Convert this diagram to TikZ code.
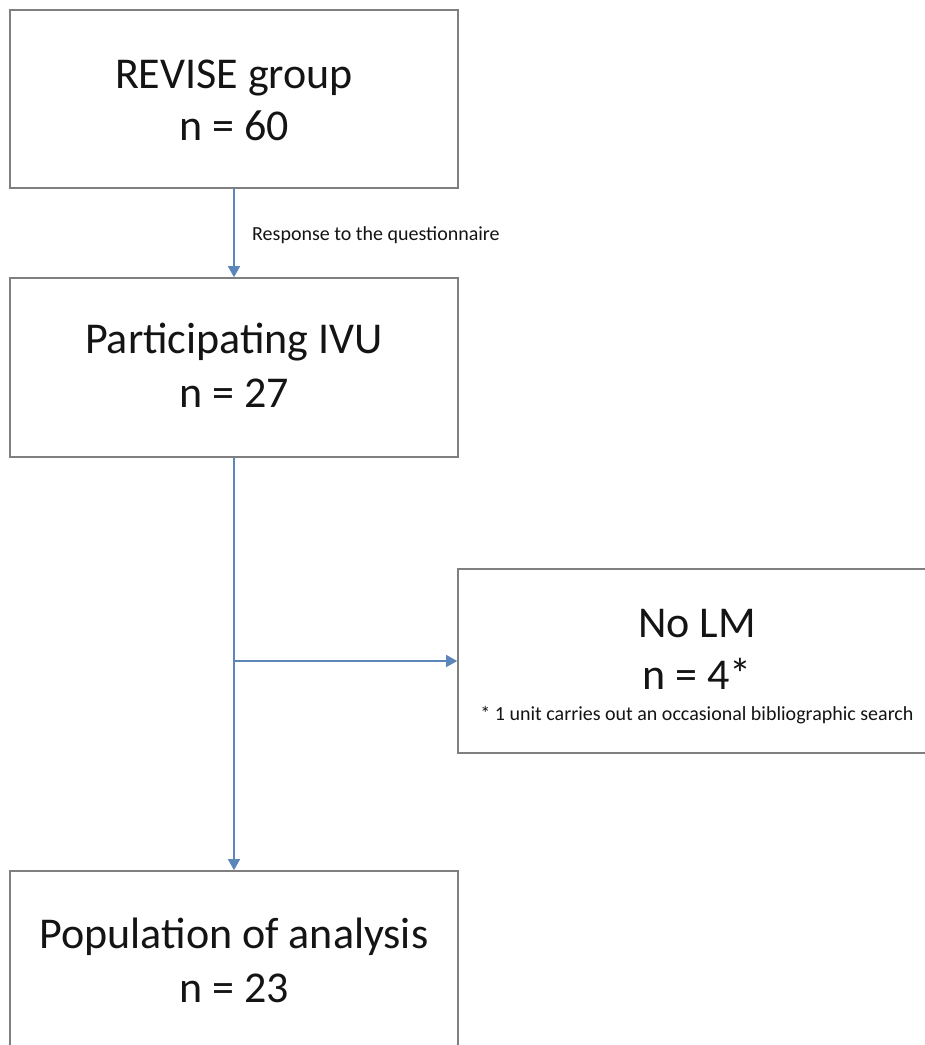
\documentclass[tikz,border=0pt]{standalone}
\usepackage{fontspec}
\setmainfont{Carlito}
\usetikzlibrary{arrows.meta}
\definecolor{boxgray}{HTML}{7F7F7F}
\definecolor{arrowblue}{HTML}{5B86BA}
\definecolor{inktext}{HTML}{141414}
\begin{document}
\begin{tikzpicture}[x=1pt,y=-1pt,
  box/.style={draw=boxgray, line width=1.6pt, fill=white, rectangle, inner sep=0pt},
  conn/.style={draw=arrowblue, line width=1.3pt, -{Triangle[width=12pt,length=11pt]}},
  big/.style={font=\fontsize{44}{53}\selectfont, text=inktext, inner sep=0pt, anchor=base},
  small/.style={font=\fontsize{20}{24}\selectfont, text=inktext, inner sep=0pt, anchor=base},
  tiny/.style={font=\fontsize{20}{24}\selectfont, text=inktext, inner sep=0pt, anchor=base west}]
\useasboundingbox (0,0) rectangle (925,1045);
% boxes
\node[box, minimum width=448pt, minimum height=178pt] (revise) at (234,99) {};
\node[box, minimum width=448pt, minimum height=179pt] (part) at (234,367.5) {};
\node[box, minimum width=478pt, minimum height=184pt] (nolm) at (697,661) {};
\node[box, minimum width=448pt, minimum height=179pt] (pop) at (234,960.5) {};
% texts
\node[big] (t1a) at (234,88) {REVISE group};
\node[big] (t1b) at (234,140) {n = 60};
\node[big] (t2a) at (234,353) {Participating IVU};
\node[big] (t2b) at (234,407) {n = 27};
\node[big] (t3a) at (697,637) {No LM};
\node[big] (t3b) at (697,689) {n = 4*};
\node[small] (t3c) at (697,720) {* 1 unit carries out an occasional bibliographic search};
\node[big] (t4a) at (234,948) {Population of analysis};
\node[big] (t4b) at (234,1002) {n = 23};
% connectors
\draw[conn] (revise.south) -- (part.north);
\node[tiny] (resp) at (252,240) {Response to the questionnaire};
\draw[conn] (part.south) -- (pop.north);
\coordinate (branch) at (part.south |- nolm.west);
\draw[conn] (branch) -- (nolm.west);
\end{tikzpicture}
\end{document}
